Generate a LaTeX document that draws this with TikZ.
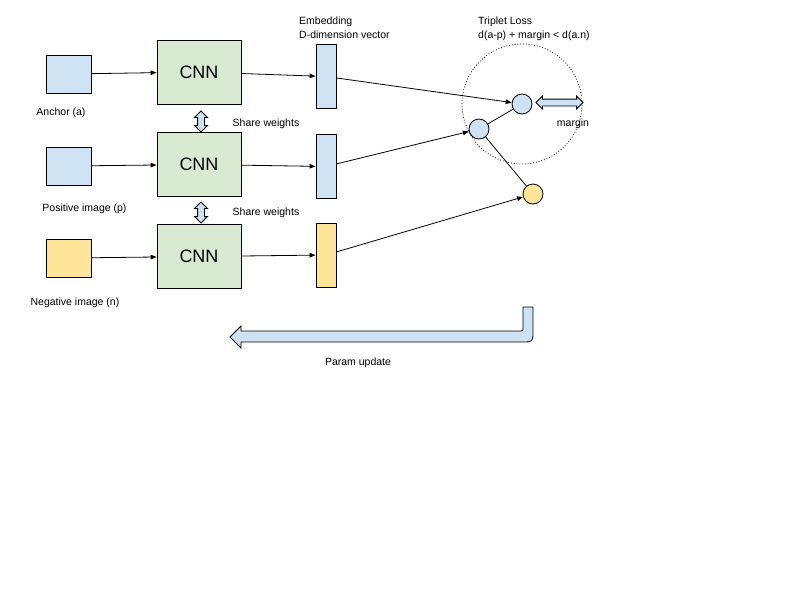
\documentclass[tikz,border=0pt]{standalone}
\usepackage{fontspec}
\setmainfont{Liberation Sans}
\usepackage{xcolor}
\usetikzlibrary{arrows.meta,shapes.arrows}
\definecolor{lblue}{RGB}{207,226,243}
\definecolor{lgreen}{RGB}{217,234,211}
\definecolor{lyellow}{RGB}{255,229,153}

\begin{document}
\begin{tikzpicture}[x=1pt, y=-1pt,
    img/.style={draw, line width=0.8pt, minimum width=45pt, minimum height=38pt, inner sep=0pt},
    cnn/.style={draw, line width=0.8pt, fill=lgreen, minimum width=84pt, minimum height=64pt, inner sep=0pt, font=\fontsize{18}{20}\selectfont},
    emb/.style={draw, line width=0.8pt, minimum width=20pt, minimum height=64pt, inner sep=0pt},
    pt/.style={circle, draw, line width=0.8pt, minimum size=20pt, inner sep=0pt},
    dbl/.style={double arrow, draw, line width=0.8pt, fill=lblue, inner sep=3pt, double arrow head extend=3pt},
    lbl/.style={font=\fontsize{10.5}{13.5}\selectfont, inner sep=0pt},
    arr/.style={-{Triangle[length=6pt, width=4.5pt]}, line width=0.8pt},
    con/.style={line width=0.8pt},
]
\useasboundingbox (0,0) rectangle (800,600);

% inputs
\node[img, fill=lblue] (imga) at (69,74) {};
\node[img, fill=lblue] (imgp) at (69,166) {};
\node[img, fill=lyellow] (imgn) at (69,258) {};
\node[lbl] (laba) at (61,113) {Anchor (a)};
\node[lbl] (labp) at (84.5,209) {Positive image (p)};
\node[lbl] (labn) at (75,303) {Negative image (n)};

% networks
\node[cnn] (cnna) at (199,72) {CNN};
\node[cnn] (cnnp) at (199,164.5) {CNN};
\node[cnn] (cnnn) at (199,256.5) {CNN};
\node[dbl, rotate=90, minimum height=21pt] (sw1) at (201,121.5) {};
\node[dbl, rotate=90, minimum height=21pt] (sw2) at (201,212.5) {};
\node[lbl] (sh1) at (266,124) {Share weights};
\node[lbl] (sh2) at (266,213) {Share weights};

% embeddings
\node[emb, fill=lblue] (emba) at (326,76.5) {};
\node[emb, fill=lblue] (embp) at (326,166.5) {};
\node[emb, fill=lyellow] (embn) at (326,255) {};
\node[lbl, anchor=north west, align=left] (embtxt) at (299,17) {Embedding\\D-dimension vector};

\draw[arr] (imga) -- (cnna);
\draw[arr] (imgp) -- (cnnp);
\draw[arr] (imgn) -- (cnnn);
\draw[arr] (cnna) -- (emba);
\draw[arr] (cnnp) -- (embp);
\draw[arr] (cnnn) -- (embn);

% triplet loss
\node[lbl, anchor=north west, align=left] (losstxt) at (478,17) {Triplet Loss\\d(a-p) + margin < d(a.n)};
\node[pt, fill=lblue] (pa) at (522,104) {};
\node[pt, fill=lblue] (pp) at (479,129) {};
\node[pt, fill=lyellow] (pn) at (533,194) {};
\draw[dotted, line width=0.8pt] (pa.center) circle (60pt);
\node[dbl, minimum height=47pt] (mg) at (559.5,102.5) {};
\node[lbl] (mgtxt) at (573,124) {margin};

\draw[arr] (emba) -- (pa);
\draw[arr] (embp) -- (pp);
\draw[arr] (embn) -- (pn);
\draw[con] (pp) -- (pa);
\draw[con] (pp) -- (pn);

% param update
\draw[line width=0.8pt, fill=lblue] (523,307) -- (533,307) -- (533,331)
    .. controls (533,342) .. (522,342) -- (241,342) -- (241,348) -- (230,337)
    -- (241,326) -- (241,331) -- (519,331) .. controls (523,331) .. (523,327) -- cycle;
\node[lbl] (uptxt) at (358,363) {Param update};
\end{tikzpicture}
\end{document}
